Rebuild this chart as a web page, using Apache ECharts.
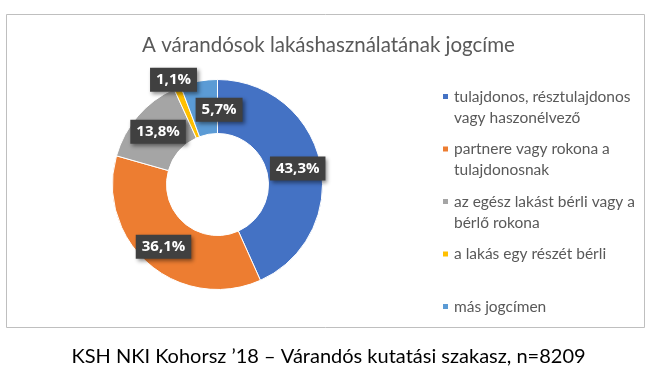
<!DOCTYPE html>
<html><head><meta charset="utf-8">
<script src="https://cdn.jsdelivr.net/npm/echarts@6/dist/echarts.min.js"></script>
<style>html,body{margin:0;padding:0;background:#fff}#c{width:657px;height:375px}</style>
</head><body><div id="c"></div>
<script>
const categories = [
  'tulajdonos, résztulajdonos vagy haszonélvező',
  'partnere vagy rokona a tulajdonosnak',
  'az egész lakást bérli vagy a bérlő rokona',
  'a lakás egy részét bérli',
  'más jogcímen'
];
const legendLines = [
  'tulajdonos, résztulajdonos\nvagy haszonélvező',
  'partnere vagy rokona a\ntulajdonosnak',
  'az egész lakást bérli vagy a\nbérlő rokona',
  'a lakás egy részét bérli\n ',
  'más jogcímen\n '
];
const values = [43.3, 36.1, 13.8, 1.1, 5.7];
const colors = ['#4472C4', '#ED7D31', '#A5A5A5', '#FFC000', '#5B9BD5'];
const labelShift = [[1, 1], [-1, 1], [2, 0], [-13, -30], [16, 5]];

const chart = echarts.init(document.getElementById('c'));
chart.setOption({
  animation: false,
  title: [
    { text: 'A várandósok lakáshasználatának jogcíme', left: 'center', top: 30,
      textStyle: { fontFamily: 'Lato', fontSize: 20.5, fontWeight: 'normal', color: '#595959' } },
    { text: 'KSH NKI Kohorsz ’18 – Várandós kutatási szakasz, n=8209', left: 'center', top: 342,
      textStyle: { fontFamily: 'Lato', fontSize: 20, fontWeight: 'normal', color: '#000' } }
  ],
  graphic: [{ type: 'rect', shape: { x: 6.5, y: 14.5, width: 638, height: 313 },
    style: { fill: 'none', stroke: '#BFBFBF', lineWidth: 1 }, silent: true }],
  legend: {
    orient: 'vertical', left: 436, top: 80,
    itemWidth: 7, itemHeight: 42, itemGap: 8.5,
    icon: 'path://M0 0L0 0M0 7H7V14H0ZM0 42L0 42',
    data: categories,
    formatter: name => legendLines[categories.indexOf(name)],
    textStyle: { fontFamily: 'Lato', fontSize: 15.5, color: '#595959', lineHeight: 21 }
  },
  series: [{
    type: 'pie', center: [217.5, 184.5], radius: [51, 105],
    startAngle: 90, clockwise: true,
    itemStyle: { borderColor: '#fff', borderWidth: 1 },
    label: {
      position: 'inside', color: '#fff', fontFamily: 'Open Sans', fontWeight: 'bold', fontSize: 15,
      backgroundColor: '#404040', padding: [5, 6, 4, 6],
      shadowColor: 'rgba(0,0,0,0.45)', shadowBlur: 4, shadowOffsetX: 2, shadowOffsetY: 2,
      formatter: p => p.value.toFixed(1).replace('.', ',') + '%'
    },
    labelLayout: p => ({ dx: labelShift[p.dataIndex][0], dy: labelShift[p.dataIndex][1] }),
    labelLine: { show: false },
    emphasis: { disabled: true },
    data: categories.map((n, i) => ({ name: n, value: values[i], itemStyle: { color: colors[i] } }))
  }]
});
</script></body></html>
